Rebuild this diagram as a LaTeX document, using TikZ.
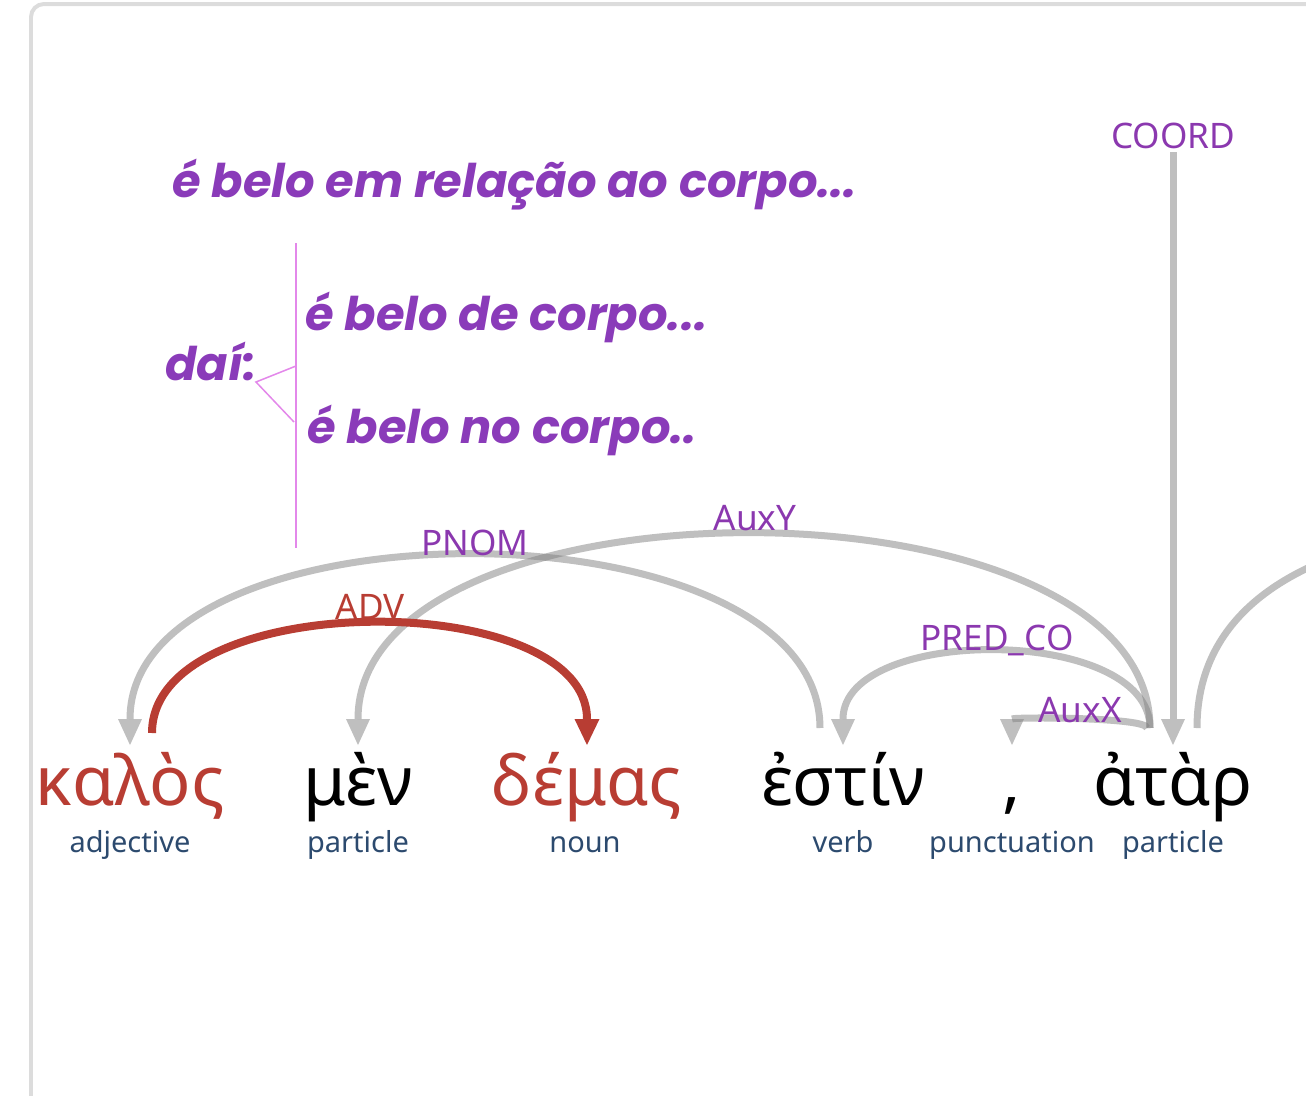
\documentclass[tikz,border=0pt]{standalone}
\usepackage{fontspec}
\usetikzlibrary{arrows.meta, calc}

\newfontfamily\greekfont{Noto Sans}
\newfontfamily\notefont{Poppins}

\begin{document}
\begin{tikzpicture}[
    x=0.02cm, y=-0.02cm,
    every node/.style={inner sep=0pt},
    token/.style={font=\greekfont\fontsize{39}{47}\selectfont, anchor=base},
    postag/.style={font=\greekfont\fontsize{16.5}{20}\selectfont, text=poscolor, anchor=base},
    deprel/.style={font=\greekfont\fontsize{20}{24}\selectfont, text=relcolor},
    dep/.style={draw=arcgray, opacity=0.5, line width=0.14cm,
        -{Triangle[length=0.52cm, width=0.48cm, line width=0pt]}},
    advdep/.style={draw=advcolor, line width=0.16cm,
        -{Triangle[length=0.52cm, width=0.5cm, line width=0pt]}},
    gloss/.style={font=\notefont\bfseries\itshape\fontsize{26.4}{32}\selectfont,
        text=notecolor, anchor=base west},
]

\definecolor{arcgray}{HTML}{7F7F7F}     % dependency arcs
\definecolor{advcolor}{HTML}{B83D33}    % the ADV pair
\definecolor{relcolor}{HTML}{8B38AF}    % relation names
\definecolor{poscolor}{HTML}{2C4A6E}    % part of speech
\definecolor{notecolor}{HTML}{8A3BB9}
\definecolor{bracecolor}{HTML}{E388EA}
\definecolor{framecolor}{HTML}{DCDCDC}

\useasboundingbox (0,0) rectangle (1306,1096);

% ---------------------------------------------------------------- frame
\draw[framecolor, line width=0.08cm, rounded corners=0.26cm]
    (31,1110) |- (1320,4);

% ---------------------------------------------------------------- glosses
\node[gloss] (g-relacao) at (172,197) {é belo em relação ao corpo...};
\node[gloss] (g-dai)     at (165,380) {daí:};
\node[gloss] (g-de)      at (305,330) {é belo de corpo...};
\node[gloss] (g-no)      at (307,443) {é belo no corpo..};

\draw[bracecolor, line width=0.04cm] (296,243) -- (296,548);
\draw[bracecolor, line width=0.03cm] (296,366) -- (256,382) -- (294,422);

% ---------------------------------------------------------------- tokens
\node[token, text=advcolor] (kalos) at (130,805)  {καλὸς};
\node[token]                (men)   at (358,805)  {μὲν};
\node[token, text=advcolor] (demas) at (587,805)  {δέμας};
\node[token]                (estin) at (843,805)  {ἐστίν};
\node[token]                (comma) at (1012,805) {,};
\node[token]                (atar)  at (1173,805) {ἀτὰρ};

\node[postag] (p-kalos) at (130,852)  {adjective};
\node[postag] (p-men)   at (358,852)  {particle};
\node[postag] (p-demas) at (585,852)  {noun};
\node[postag] (p-estin) at (843,852)  {verb};
\node[postag] (p-comma) at (1012,852) {punctuation};
\node[postag] (p-atar)  at (1173,852) {particle};

\coordinate (c-coord)  at (1173,152);
\coordinate (offright) at (1312,566);

% ---------------------------------------------------------------- arcs
\draw[dep] ($(estin.base)+(-23,-77)$) .. controls +(0,-231) and +(0,-248)
    .. ($(kalos.base)+(0,-60)$);
\draw[dep] ($(atar.base)+(-23,-77)$) .. controls +(0,-259) and +(0,-276)
    .. ($(men.base)+(0,-60)$);
\draw[dep] ($(atar.base)+(-23,-77)$) .. controls +(0,-103) and +(0,-120)
    .. ($(estin.base)+(0,-60)$);
\draw[dep] ($(atar.base)+(-26,-77)$) .. controls +(0,-11) and +(0,-28)
    .. ($(comma.base)+(0,-60)$);
\draw[dep] (c-coord) -- ($(atar.base)+(0,-60)$);
\draw[dep, -] ($(atar.base)+(24,-77)$) .. controls +(0,-78) and +(-70,32)
    .. (offright);

\draw[advdep] ($(kalos.base)+(22,-72)$) .. controls +(0,-146) and +(0,-158)
    .. ($(demas.base)+(0,-60)$);

% ---------------------------------------------------------------- relations
\node[deprel] (l-pnom)   at (475,543)  {PNOM};
\node[deprel] (l-auxy)   at (755,518)  {AuxY};
\node[deprel, text=advcolor] (l-adv) at (370,607) {ADV};
\node[deprel] (l-predco) at (997,640)  {PRED\_CO};
\node[deprel] (l-auxx)   at (1080,710) {AuxX};
\node[deprel] (l-coord)  at (1173,136) {COORD};

\end{tikzpicture}
\end{document}
